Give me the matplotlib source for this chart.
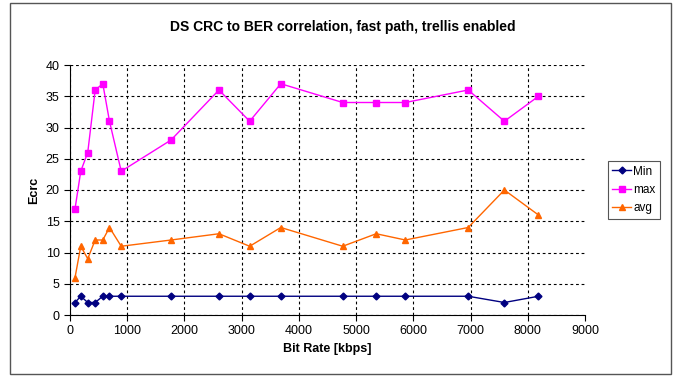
import matplotlib
matplotlib.use("Agg")
import matplotlib.pyplot as plt
from matplotlib.patches import Rectangle

plt.rcParams['font.family'] = ['Liberation Sans Narrow', 'Liberation Sans', 'DejaVu Sans']

# bit rate [kbps] and CRC error counts
bit_rate = [88, 188, 310, 440, 573, 690, 895, 1766, 2603, 3140, 3684,
            4766, 5351, 5860, 6959, 7591, 8187]
ecrc_min = [2, 3, 2, 2, 3, 3, 3, 3, 3, 3, 3, 3, 3, 3, 3, 2, 3]
ecrc_max = [17, 23, 26, 36, 37, 31, 23, 28, 36, 31, 37, 34, 34, 34, 36, 31, 35]
ecrc_avg = [6, 11, 9, 12, 12, 14, 11, 12, 13, 11, 14, 11, 13, 12, 14, 20, 16]

x_ticks = list(range(0, 10000, 1000))
y_ticks = list(range(0, 45, 5))

fig = plt.figure(figsize=(6.76, 3.77), dpi=100)
ax = fig.add_axes([70/676, 1 - 315/377, 515/676, 250/377])

ax.plot(bit_rate, ecrc_min, color='#000080', lw=1, marker='D', ms=3.5, label='Min')
ax.plot(bit_rate, ecrc_max, color='#FF00FF', lw=1, marker='s', ms=4.5, label='max')
ax.plot(bit_rate, ecrc_avg, color='#FF6600', lw=1, marker='^', ms=5, label='avg')

ax.set_xlim(0, 9000)
ax.set_ylim(0, 40)
ax.set_xticks(x_ticks)
ax.set_yticks(y_ticks)
ax.tick_params(labelsize=9, length=4, width=0.8, color='black')
ax.grid(True, color='black', linestyle=(0, (2.5, 2.5)), linewidth=0.8)
ax.set_axisbelow(True)
# no vertical gridline at the axis end
ax.get_xgridlines()[-1].set_visible(False)
for s in ['top', 'right']:
    ax.spines[s].set_visible(False)

ax.set_xlabel('Bit Rate [kbps]', fontsize=9, fontweight='bold', labelpad=4)
ax.set_ylabel('Ecrc', fontsize=9, fontweight='bold', labelpad=4)
fig.text(0.507, 0.928, 'DS CRC to BER correlation, fast path, trellis enabled',
         ha='center', va='center', fontsize=10, fontweight='bold')

leg = ax.legend(loc='center left', bbox_to_anchor=(608/676, 1 - 190/377),
                bbox_transform=fig.transFigure, fontsize=8.5, frameon=True,
                fancybox=False, framealpha=1, edgecolor='#555555',
                handlelength=1.6, handletextpad=0.2, borderpad=0.35,
                borderaxespad=0, labelspacing=0.55)
leg.get_frame().set_linewidth(0.8)

fig.patches.append(Rectangle((10/676, 3/377), 661/676, 371/377,
                             transform=fig.transFigure, fill=False,
                             edgecolor='#555555', linewidth=1))

fig.savefig('out.png', dpi=100)
